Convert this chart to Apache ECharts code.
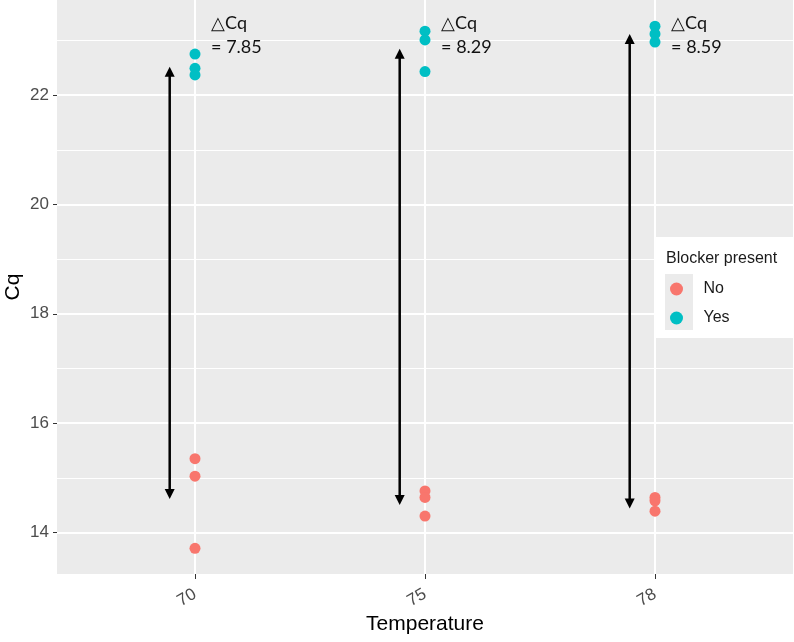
<!DOCTYPE html>
<html>
<head>
<meta charset="utf-8">
<script src="https://cdn.jsdelivr.net/npm/echarts@6/dist/echarts.min.js"></script>
<style>
html, body { margin: 0; padding: 0; background: #fff; }
#chart { width: 794px; height: 642px; }
</style>
</head>
<body>
<div id="chart"></div>
<script>
// temperature groups
const categories = ['70', '75', '78']
// Cq readings per temperature
const cqNo  = [[15.35, 15.03, 13.71], [14.76, 14.64, 14.30], [14.64, 14.58, 14.39]]
const cqYes = [[22.75, 22.49, 22.37], [23.17, 23.01, 22.43], [23.26, 23.12, 22.97]]
// annotation: arrow ends and delta text
const arrowLow  = [14.61, 14.50, 14.44]
const arrowHigh = [22.52, 22.85, 23.12]
const deltaCq   = ['7.85', '8.29', '8.59']
// axis ticks
const yTicks      = [14, 16, 18, 20, 22]
const yMinorTicks = [15, 17, 19, 21, 23]

const COL_NO = '#F8766D'
const COL_YES = '#00BFC4'
const AXIS_FONT = '"Liberation Sans", Arial, sans-serif'

const toPoints = groups => groups.flatMap((vals, i) => vals.map(v => [i, v]))

const ec = echarts.init(document.getElementById('chart'))

ec.setOption({
    animation: false,
    grid: {
        left: 57, right: 1, top: 0, bottom: 68,
        show: true, backgroundColor: '#EBEBEB', borderWidth: 0,
        outerBoundsMode: 'none'
    },
    legend: {
        orient: 'vertical', left: 665, top: 276, z: 10,
        itemWidth: 28, itemHeight: 13, itemGap: 13,
        selectedMode: false,
        data: [{ name: 'No', icon: 'circle' }, { name: 'Yes', icon: 'circle' }],
        textStyle: { fontFamily: AXIS_FONT, fontSize: 16, color: '#1a1a1a', lineHeight: 16, padding: [0, 0, 0, 8] }
    },
    graphic: [
        { type: 'rect', left: 655, top: 237, z: 5, shape: { width: 139, height: 101 }, style: { fill: '#fff' } },
        { type: 'rect', left: 665, top: 274, z: 6, shape: { width: 28, height: 56 }, style: { fill: '#EBEBEB' } },
        { type: 'text', left: 666, top: 251, z: 6, style: { text: 'Blocker present', fontFamily: AXIS_FONT, fontSize: 16, fill: '#1a1a1a' } }
    ],
    xAxis: {
        type: 'value', min: -0.6, max: 2.6,
        name: 'Temperature', nameLocation: 'middle', nameGap: 40, nameMoveOverlap: false,
        nameTextStyle: { fontFamily: AXIS_FONT, fontSize: 21, color: '#000' },
        axisLine: { show: false, onZero: false },
        axisTick: { show: true, length: 5, customValues: [0, 1, 2], lineStyle: { color: '#333' } },
        axisLabel: {
            customValues: [0, 1, 2], rotate: 30, margin: 19,
            formatter: v => categories[Math.round(v)],
            fontFamily: AXIS_FONT, fontSize: 17, color: '#4D4D4D'
        },
        splitLine: { show: true, lineStyle: { color: '#fff', width: 2 } }
    },
    yAxis: [{
        type: 'value', min: 13.24, max: 23.74,
        name: 'Cq', nameLocation: 'middle', nameGap: 33, nameMoveOverlap: false,
        nameTextStyle: { fontFamily: AXIS_FONT, fontSize: 21, color: '#000' },
        axisLine: { show: false, onZero: false },
        axisTick: { show: true, length: 4, customValues: yTicks, lineStyle: { color: '#333' } },
        axisLabel: { customValues: yTicks, margin: 8, fontFamily: AXIS_FONT, fontSize: 17, color: '#4D4D4D' },
        splitLine: { show: true, lineStyle: { color: '#fff', width: 2 } }
    }, {
        // minor grid only
        type: 'value', min: 13.24, max: 23.74, position: 'left',
        axisLine: { show: false, onZero: false },
        axisLabel: { show: false },
        axisTick: { show: false, customValues: yMinorTicks },
        splitLine: { show: true, lineStyle: { color: '#fff', width: 1 } }
    }],
    series: [
        {
            name: 'No', type: 'scatter', data: toPoints(cqNo),
            symbolSize: 11, itemStyle: { color: COL_NO, opacity: 1 }, z: 3
        },
        {
            name: 'Yes', type: 'scatter', data: toPoints(cqYes),
            symbolSize: 11, itemStyle: { color: COL_YES, opacity: 1 }, z: 3
        },
        {
            name: 'delta', type: 'custom', z: 4,
            data: categories.map((c, i) => [i, arrowLow[i], arrowHigh[i]]),
            encode: { x: 0, y: [1, 2] },
            renderItem (params, api) {
                const i = api.value(0)
                const lo = api.coord([i - 0.11, api.value(1)])
                const hi = api.coord([i - 0.11, api.value(2)])
                const txt = api.coord([i + 0.07, 23.10])
                const h = 10, w = 5
                return {
                    type: 'group',
                    children: [
                        { type: 'line', shape: { x1: lo[0], y1: lo[1] - h + 1, x2: hi[0], y2: hi[1] + h - 1 }, style: { stroke: '#000', lineWidth: 2.5 } },
                        { type: 'polygon', shape: { points: [[hi[0], hi[1]], [hi[0] - w, hi[1] + h], [hi[0] + w, hi[1] + h]] }, style: { fill: '#000' } },
                        { type: 'polygon', shape: { points: [[lo[0], lo[1]], [lo[0] - w, lo[1] - h], [lo[0] + w, lo[1] - h]] }, style: { fill: '#000' } },
                        {
                            type: 'text', x: txt[0], y: txt[1],
                            style: {
                                text: '△Cq\n= ' + deltaCq[params.dataIndex],
                                fontFamily: 'Lato, "Open Sans", sans-serif', fontSize: 18, lineHeight: 24,
                                fill: '#111', align: 'left', verticalAlign: 'middle'
                            }
                        }
                    ]
                }
            }
        }
    ]
})
</script>
</body>
</html>
